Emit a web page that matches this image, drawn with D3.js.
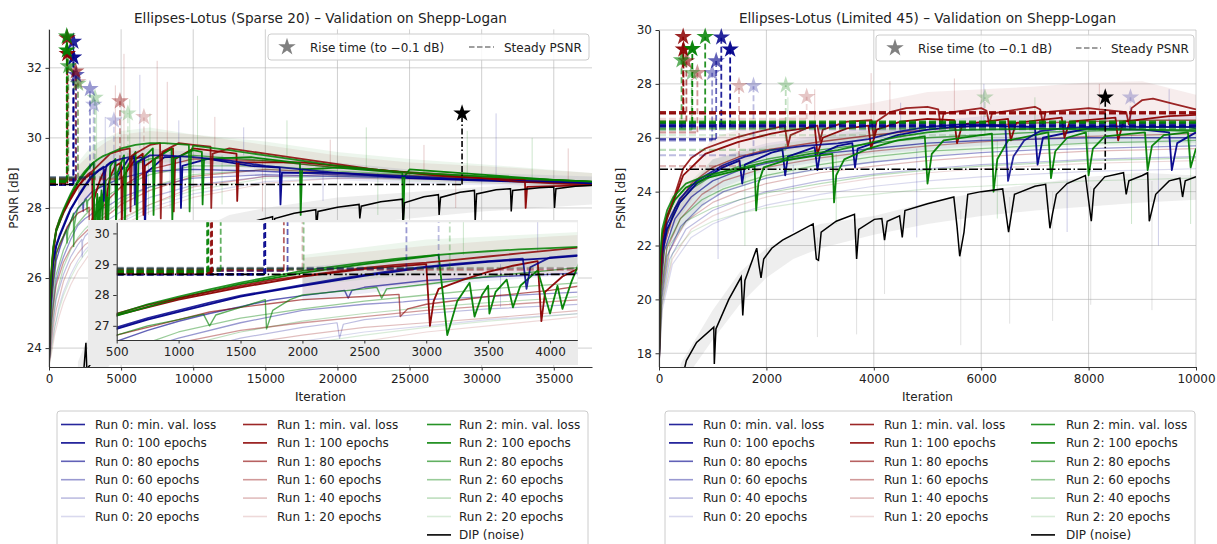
<!DOCTYPE html>
<html>
<head>
<meta charset="utf-8" />
<title>Ellipses-Lotus validation on Shepp-Logan</title>
<script src="https://cdn.jsdelivr.net/npm/d3@7"></script>
<style>
    body { margin: 0px; background: white; }
    text { font-family: "DejaVu Sans", sans-serif; fill: #222; }
</style>
</head>
<body>
<svg id="chart"></svg>
<script>

// ---------- data ----------
var checkpoints = ["min. val. loss", "100 epochs", "80 epochs", "60 epochs", "40 epochs", "20 epochs"];
var runNames = ["Run 0", "Run 1", "Run 2"];

// Left panel: Ellipses-Lotus (Sparse 20)
var sparseRun0 = [
    [[0,23.5],[40,24.6],[100,25.4],[200,26.1],[300,26.5],[500,26.95],[750,27.25],[1000,27.5],[1250,27.75],[1500,27.98],[1750,28.15],[2000,28.33],[2250,28.5],[2500,28.65],[2750,28.8],[3000,28.92],[3250,29.02],[3500,29.1],[3780,29.18],[3810,28.2],[3840,28.9],[4000,29.22],[4250,29.3],[5000,29.4],[5900,29.48],[5950,28.1],[6050,29.3],[7000,29.5],[8000,29.5],[10000,29.45],[12500,29.35],[15000,29.2],[17500,29.1],[20000,29.0],[25000,28.9],[30000,28.8],[37650,28.7]],
    [[0,23.5],[40,24.5],[100,25.3],[200,26.0],[300,26.45],[500,26.9],[750,27.2],[1000,27.45],[1500,27.95],[2000,28.3],[2500,28.62],[3000,28.9],[3500,29.08],[4000,29.2],[4250,29.28],[4600,29.35],[4650,27.6],[4720,28.9],[5500,29.4],[6600,29.45],[6650,27.2],[6750,29.0],[8000,29.45],[9100,29.45],[9150,28.0],[9250,29.2],[11000,29.4],[14000,29.2],[16000,29.15],[16050,28.1],[16150,29.0],[20000,29.0],[25000,28.85],[30000,28.78],[37650,28.7]],
    [[0,23.5],[50,24.3],[150,25.1],[300,25.8],[500,26.5],[750,26.85],[1000,27.15],[1250,27.4],[1500,27.62],[1750,27.84],[2000,27.98],[2340,28.15],[2370,27.9],[2400,28.15],[2500,28.25],[3000,28.47],[3500,28.58],[4000,28.67],[4250,28.72],[5000,28.85],[7000,29.05],[10000,29.1],[15000,29.05],[20000,28.95],[30000,28.8],[37650,28.72]],
    [[0,23.5],[80,24.2],[200,24.9],[400,25.6],[500,25.9],[750,26.3],[1000,26.6],[1500,27.1],[2000,27.5],[2500,27.7],[2815,27.78],[3000,27.85],[3500,27.95],[4250,28.1],[5000,28.3],[7000,28.6],[10000,28.85],[15000,28.95],[20000,28.9],[30000,28.8],[37650,28.75]],
    [[0,23.5],[100,24.0],[300,24.8],[500,25.4],[1000,26.1],[1500,26.6],[2000,26.95],[2280,27.1],[2300,26.6],[2330,27.05],[2500,27.2],[3000,27.4],[3500,27.55],[4250,27.7],[5000,27.9],[7000,28.3],[10000,28.65],[15000,28.9],[20000,28.9],[30000,28.8],[37650,28.75]],
    [[0,23.5],[150,24.0],[400,24.6],[700,25.2],[1000,25.6],[1500,26.1],[2000,26.5],[2500,26.8],[3000,27.0],[3500,27.2],[4250,27.4],[5000,27.6],[7000,28.0],[10000,28.4],[15000,28.75],[20000,28.85],[30000,28.8],[37650,28.75]]
];
var sparseRun1 = [
    [[0,23.5],[40,24.7],[100,25.6],[200,26.3],[300,26.8],[500,27.4],[750,27.68],[1000,27.9],[1250,28.1],[1500,28.3],[1750,28.48],[2000,28.62],[2250,28.75],[2500,28.88],[2750,28.98],[3000,29.05],[3250,29.15],[3500,29.25],[3750,29.35],[4000,29.45],[4250,29.55],[5000,29.65],[5600,29.7],[5650,27.9],[5750,29.5],[7000,29.8],[7700,29.85],[7750,27.7],[7850,29.6],[9000,29.85],[10000,29.8],[11200,29.75],[11250,28.0],[11350,29.55],[12500,29.7],[15000,29.55],[17500,29.4],[20000,29.25],[22500,29.1],[25000,29.0],[27500,28.9],[30000,28.85],[32500,28.75],[35000,28.7],[37650,28.65]],
    [[0,23.5],[40,24.6],[100,25.5],[200,26.25],[300,26.75],[500,27.35],[1000,27.85],[1500,28.25],[2000,28.6],[2500,28.85],[3000,29.0],[3030,27.0],[3060,27.8],[3100,28.2],[3300,28.5],[3500,28.75],[3700,28.95],[3900,29.1],[3930,27.15],[3960,28.1],[4100,28.6],[4250,28.9],[4600,29.2],[5000,29.3],[5050,27.6],[5150,28.9],[6000,29.4],[6500,29.55],[6550,27.8],[6650,29.2],[8000,29.6],[8600,29.7],[8650,27.9],[8750,29.4],[10000,29.7],[12000,29.6],[13000,29.55],[13050,28.2],[13150,29.3],[17500,29.3],[20000,29.2],[25000,29.0],[30000,28.85],[33000,28.8],[33050,28.0],[33150,28.6],[37650,28.65]],
    [[0,23.5],[50,24.4],[150,25.3],[300,26.0],[500,26.7],[1000,27.2],[1250,27.45],[1500,27.6],[1800,27.75],[2000,27.85],[2500,27.95],[2780,28.02],[2790,27.3],[2850,27.55],[3000,27.7],[3500,27.95],[4000,28.15],[4250,28.3],[5000,28.6],[7000,29.1],[10000,29.4],[15000,29.35],[20000,29.15],[30000,28.9],[37650,28.75]],
    [[0,23.5],[80,24.1],[200,24.8],[400,25.5],[500,25.8],[1000,26.45],[1500,26.85],[2000,27.1],[2500,27.3],[3000,27.5],[3500,27.65],[4250,27.85],[5000,28.1],[7000,28.5],[10000,28.9],[15000,29.1],[20000,29.0],[30000,28.85],[37650,28.75]],
    [[0,23.5],[100,23.9],[300,24.6],[500,25.1],[1000,25.9],[1500,26.4],[2000,26.7],[2500,26.95],[3000,27.1],[3500,27.25],[4250,27.5],[5000,27.7],[7000,28.1],[10000,28.6],[15000,28.9],[20000,28.95],[30000,28.85],[37650,28.75]],
    [[0,23.5],[150,23.8],[400,24.4],[700,24.9],[1000,25.3],[1500,25.8],[2000,26.2],[2500,26.5],[3000,26.8],[3500,27.0],[4250,27.3],[5000,27.5],[7000,27.9],[10000,28.3],[15000,28.7],[20000,28.85],[30000,28.8],[37650,28.75]]
];
var sparseRun2 = [
    [[0,23.5],[40,24.8],[100,25.7],[200,26.4],[300,26.9],[500,27.38],[750,27.7],[1000,27.95],[1250,28.18],[1500,28.4],[1750,28.6],[2000,28.78],[2250,28.92],[2500,29.05],[2750,29.17],[3000,29.27],[3250,29.35],[3500,29.42],[3750,29.48],[4000,29.52],[4250,29.57],[5000,29.7],[6000,29.8],[7000,29.85],[8000,29.85],[9000,29.82],[9700,29.8],[9750,27.9],[9850,29.6],[10000,29.78],[12500,29.65],[15000,29.5],[17500,29.35],[20000,29.2],[22500,29.1],[25000,29.0],[27500,28.95],[30000,28.9],[32500,28.85],[35000,28.8],[37650,28.75]],
    [[0,23.5],[40,24.7],[100,25.6],[200,26.35],[300,26.85],[500,27.33],[1000,27.9],[1500,28.35],[2000,28.72],[2500,29.0],[3000,29.25],[3100,29.3],[3170,26.7],[3250,27.8],[3350,28.4],[3390,27.3],[3450,28.0],[3500,28.3],[3510,27.4],[3560,28.1],[3650,28.5],[3700,27.6],[3760,28.3],[3900,28.8],[4000,27.4],[4060,28.3],[4100,27.55],[4170,28.4],[4250,29.2],[4600,29.4],[4650,27.5],[4750,29.0],[5200,29.5],[5250,27.3],[5350,29.1],[6000,29.6],[6100,27.4],[6200,29.3],[7200,29.7],[7250,27.8],[7350,29.4],[8500,29.7],[8550,27.6],[8650,29.4],[10000,29.65],[10600,29.6],[10650,28.1],[10750,29.4],[14000,29.45],[17400,29.28],[17450,27.8],[17550,29.1],[20000,29.15],[24500,29.0],[24550,27.4],[24650,28.9],[25000,29.1],[30000,28.95],[35000,28.8],[37650,28.75]],
    [[0,23.5],[50,24.4],[150,25.4],[300,26.1],[500,26.7],[750,27.0],[1000,27.2],[1200,27.38],[1250,27.0],[1300,27.35],[1500,27.6],[1700,27.85],[1710,26.9],[1760,27.5],[1900,27.85],[2000,28.0],[2500,28.2],[2600,28.25],[2640,27.9],[2680,28.2],[3000,28.35],[3500,28.6],[4000,28.8],[4250,28.9],[5000,29.1],[7000,29.4],[10000,29.5],[15000,29.35],[20000,29.15],[30000,28.9],[37650,28.75]],
    [[0,23.5],[80,24.3],[200,25.0],[400,25.8],[500,26.1],[1000,26.8],[1500,27.25],[2000,27.55],[2500,27.8],[3000,28.0],[3500,28.2],[4250,28.4],[5000,28.6],[7000,28.95],[10000,29.2],[15000,29.2],[20000,29.05],[30000,28.85],[37650,28.75]],
    [[0,23.5],[100,24.1],[300,24.9],[500,25.5],[1000,26.3],[1500,26.8],[2000,27.15],[2500,27.4],[3000,27.6],[3500,27.75],[4250,27.95],[5000,28.2],[7000,28.6],[10000,28.95],[15000,29.1],[20000,29.0],[30000,28.85],[37650,28.75]],
    [[0,23.5],[150,23.9],[400,24.6],[700,25.1],[1000,25.5],[1500,26.0],[2000,26.4],[2500,26.7],[3000,26.95],[3500,27.15],[4250,27.4],[5000,27.65],[7000,28.1],[10000,28.5],[15000,28.85],[20000,28.9],[30000,28.85],[37650,28.75]]
];
var sparseDip = [[0,12],[1500,20.5],[2400,23.3],[2560,24.15],[2620,23.4],[3000,23.6],[4000,24.1],[5000,24.7],[6500,25.5],[8000,26.2],[10000,26.9],[11500,27.35],[12500,27.5],[12550,26.9],[12650,27.45],[14000,27.6],[15500,27.75],[15550,27.2],[15650,27.7],[17000,27.85],[18500,27.95],[18550,27.4],[18650,27.9],[20000,28.02],[21500,28.1],[21550,27.7],[21650,28.05],[23000,28.18],[24500,28.25],[24550,27.5],[24650,28.15],[26000,28.32],[27000,28.38],[27050,27.8],[27150,28.3],[28500,28.45],[29500,28.5],[29550,27.6],[29650,28.4],[31000,28.52],[32000,28.55],[32050,27.9],[32150,28.5],[34000,28.58],[35000,28.6],[35050,28.0],[35150,28.55],[36500,28.62],[37650,28.65]];
var sparseDipBand = [[2000,21.5,23.6],[2600,22.8,24.2],[4000,23.4,24.6],[6000,24.5,25.6],[8000,25.4,26.5],[10000,26.2,27.3],[12500,26.8,27.8],[15000,27.1,28.0],[20000,27.5,28.3],[25000,27.7,28.45],[30000,27.9,28.6],[37650,28.1,28.75]];
var sparseBand0 = [[2000,27.8,28.9],[3000,28.3,29.3],[4000,28.6,29.5],[5000,28.8,29.6],[7000,29.0,29.7],[10000,29.0,29.6],[15000,28.9,29.5],[20000,28.8,29.3],[25000,28.7,29.1],[30000,28.65,29.0],[37650,28.6,28.9]];
var sparseBand1 = [[2000,28.0,29.2],[3000,28.4,29.6],[4000,28.7,29.9],[5000,28.9,30.1],[7000,29.2,30.2],[10000,29.3,30.1],[15000,29.1,29.8],[20000,28.9,29.5],[25000,28.8,29.3],[30000,28.7,29.2],[37650,28.6,29.0]];
var sparseBand2 = [[2000,28.3,29.3],[3000,28.7,29.8],[4000,28.9,30.0],[5000,29.1,30.2],[7000,29.3,30.3],[10000,29.3,30.1],[15000,29.1,29.9],[20000,28.9,29.6],[25000,28.75,29.4],[30000,28.7,29.25],[37650,28.6,29.0]];
// faint raw spikes: [iteration, from, to, run]
var sparseSpikes = [[3300,29.3,31.0,2],[3900,29.4,30.6,0],[4600,29.5,31.5,1],[5200,29.6,32.4,1],[5600,29.6,31.1,2],[6300,29.7,31.8,0],[7000,29.75,30.7,2],[7500,29.8,32.2,1],[8200,29.8,31.6,1],[9000,29.8,30.5,0],[10300,29.7,31.2,2],[11500,29.65,30.6,1],[13500,29.5,30.3,0],[16500,29.4,30.5,2],[19500,29.25,29.95,1],[22000,29.1,30.3,2],[26000,28.95,29.8,1],[29000,28.9,30.2,2],[31000,28.85,30.7,0],[33500,28.8,30.0,2],[36000,28.75,29.7,1],
    [3600,29.0,27.6,0],[4300,29.3,27.9,2],[5400,29.4,27.5,1],[6900,29.5,27.8,2],[8400,29.6,28.0,0],[12000,29.5,28.1,2],[14800,29.4,27.9,1],[19000,29.2,28.2,0],[22800,29.0,27.8,2],[28200,28.9,28.0,1]];
var sparseRise = [[1690,1700,1880,2840,3100,4500],[1260,1270,1850,4920,2000,6580],[1230,1240,1340,2010,3190,5470]];
var sparseStarY = [[32.75,32.3,31.8,31.4,30.95,30.5],[32.85,32.4,31.9,31.05,31.6,30.6],[32.9,32.5,32.05,31.55,31.15,30.7]];
var sparseSteady = [[28.66,28.68,28.78,28.84,28.88,28.86],[28.7,28.72,28.8,28.82,28.85,28.87],[28.74,28.76,28.79,28.83,28.86,28.88]];
var sparseSteadyEnd = sparseRise;
var sparseDipMarks = [28640, 28.67, 30.7];   // rise iteration, steady PSNR, star height

// Right panel: Ellipses-Lotus (Limited 45)
var limitedRun0 = [
    [[0,17.5],[20,20.8],[60,21.9],[150,22.8],[388,23.74],[700,24.4],[1190,24.98],[1600,25.3],[2095,25.54],[2700,25.7],[3330,25.79],[3900,25.95],[4440,26.22],[5000,26.4],[5630,26.5],[6000,26.5],[6450,26.45],[6500,24.4],[6600,25.3],[6800,25.9],[7100,26.25],[7500,26.35],[8000,26.4],[8500,26.42],[9000,26.4],[9870,26.4],[10000,26.35]],
    [[0,17.5],[20,20.6],[60,21.7],[150,22.6],[388,23.6],[700,24.3],[1190,24.9],[1500,25.15],[1550,24.3],[1600,25.0],[2095,25.45],[2300,25.55],[2350,24.6],[2400,25.3],[2900,25.65],[2950,24.8],[3000,25.4],[3330,25.7],[3600,25.8],[3650,24.9],[3700,25.6],[4440,26.1],[5000,26.3],[5500,26.4],[6000,26.45],[7000,26.4],[7050,25.0],[7150,26.0],[8000,26.35],[9000,26.3],[9500,26.2],[9550,24.8],[9650,25.8],[10000,26.2]],
    [[0,17.5],[30,20.3],[100,21.8],[300,23.0],[600,23.8],[1000,24.4],[1500,24.8],[2000,25.05],[3000,25.4],[4000,25.6],[5000,25.8],[6000,25.9],[7000,25.95],[8000,26.0],[10000,26.0]],
    [[0,17.5],[40,20.0],[150,21.6],[400,22.7],[800,23.5],[1200,24.0],[2000,24.5],[3000,24.85],[4000,25.1],[5000,25.3],[6000,25.45],[7000,25.55],[8000,25.6],[9000,25.65],[10000,25.7]],
    [[0,17.5],[50,19.8],[200,21.5],[500,22.6],[1000,23.3],[1500,23.7],[2000,24.0],[3000,24.4],[4000,24.65],[5000,24.85],[6000,25.0],[7000,25.1],[8000,25.2],[9000,25.25],[10000,25.3]],
    [[0,17.5],[60,19.6],[250,21.3],[600,22.3],[1000,22.8],[1500,23.2],[2000,23.5],[3000,23.9],[4000,24.2],[5000,24.4],[6000,24.55],[7000,24.65],[8000,24.75],[9000,24.8],[10000,24.85]]
];
var limitedRun1 = [
    [[0,17.5],[20,20.5],[60,22.3],[150,23.1],[265,23.7],[450,24.86],[600,25.25],[862,25.6],[1200,25.85],[1480,26.03],[1800,26.2],[2095,26.34],[2340,26.44],[2400,25.7],[2450,26.1],[2800,26.4],[2950,26.45],[3000,25.9],[3050,26.3],[3500,26.6],[3960,26.65],[4000,26.0],[4050,26.6],[4300,26.95],[4600,27.1],[5000,27.15],[5200,27.05],[5250,26.4],[5300,26.9],[6000,27.1],[6100,27.0],[6150,26.5],[6200,26.9],[7000,27.15],[7100,27.05],[7150,26.5],[7200,26.95],[8000,27.1],[8200,27.05],[8700,26.95],[8750,26.5],[8800,27.1],[9000,27.4],[9200,27.45],[9600,27.25],[10000,27.05]],
    [[0,17.5],[20,20.3],[60,22.0],[150,23.0],[300,23.8],[450,24.6],[862,25.4],[1480,25.85],[2095,26.15],[2340,26.25],[2900,26.4],[2950,25.4],[3050,26.0],[3500,26.35],[3900,26.45],[3950,25.6],[4050,26.3],[4500,26.6],[5000,26.7],[5500,26.65],[5550,25.8],[5650,26.5],[6500,26.7],[6550,25.9],[6650,26.55],[7500,26.75],[7550,26.0],[7650,26.6],[8500,26.75],[8550,25.9],[8650,26.6],[9500,26.8],[10000,26.85]],
    [[0,17.5],[30,20.5],[100,22.0],[300,23.4],[600,24.3],[1000,24.9],[1500,25.3],[2000,25.55],[3000,25.85],[4000,26.1],[5000,26.3],[6000,26.45],[7000,26.55],[8000,26.6],[9000,26.65],[10000,26.65]],
    [[0,17.5],[40,20.2],[150,21.9],[400,23.0],[800,23.9],[1200,24.4],[2000,24.9],[3000,25.25],[4000,25.5],[5000,25.7],[6000,25.85],[7000,25.95],[8000,26.05],[9000,26.1],[10000,26.15]],
    [[0,17.5],[50,20.0],[200,21.8],[500,22.9],[1000,23.6],[1500,24.0],[2000,24.3],[3000,24.7],[4000,24.95],[5000,25.15],[6000,25.3],[7000,25.4],[8000,25.5],[9000,25.55],[10000,25.6]],
    [[0,17.5],[60,19.8],[250,21.5],[600,22.6],[1000,23.1],[1500,23.5],[2000,23.8],[3000,24.2],[4000,24.5],[5000,24.7],[6000,24.85],[7000,24.95],[8000,25.05],[9000,25.1],[10000,25.15]]
];
var limitedRun2 = [
    [[0,17.5],[20,21.5],[60,22.6],[150,23.3],[265,23.8],[500,24.3],[880,24.6],[1480,24.86],[2000,25.1],[2340,25.23],[2800,25.4],[3330,25.54],[3900,25.8],[4440,26.03],[5000,26.2],[5500,26.28],[6000,26.3],[7000,26.33],[8000,26.32],[9000,26.3],[10000,26.25]],
    [[0,17.5],[20,21.3],[60,22.4],[150,23.1],[300,23.7],[500,24.15],[880,24.5],[1480,24.8],[1780,24.95],[1810,23.3],[1850,24.3],[1950,24.9],[2340,25.15],[2800,25.3],[3230,25.4],[3260,23.6],[3300,24.6],[3450,25.2],[3900,25.6],[4440,25.9],[4950,26.05],[5000,24.3],[5080,25.4],[5300,25.9],[6000,26.1],[6200,26.15],[6230,24.0],[6300,25.2],[6500,25.9],[7250,26.2],[7300,24.5],[7380,25.5],[7600,26.0],[7950,26.2],[8000,24.6],[8080,25.6],[8300,26.05],[9050,26.2],[9100,24.8],[9180,25.7],[9400,26.1],[9850,26.2],[9900,24.9],[10000,25.6]],
    [[0,17.5],[30,20.6],[100,22.2],[300,23.4],[600,24.1],[1000,24.6],[1500,24.95],[2000,25.2],[3000,25.55],[4000,25.8],[5000,26.0],[6000,26.1],[7000,26.2],[8000,26.25],[9000,26.3],[10000,26.3]],
    [[0,17.5],[40,20.3],[150,22.0],[400,23.0],[800,23.7],[1200,24.1],[2000,24.6],[3000,25.0],[4000,25.3],[5000,25.5],[6000,25.6],[7000,25.7],[8000,25.8],[9000,25.85],[10000,25.9]],
    [[0,17.5],[50,20.0],[200,22.0],[500,22.9],[1000,23.4],[1500,23.7],[2000,23.95],[3000,24.3],[4000,24.6],[5000,24.8],[6000,24.95],[7000,25.05],[8000,25.15],[9000,25.2],[10000,25.25]],
    [[0,17.5],[60,19.8],[250,21.7],[600,22.5],[1000,22.9],[1500,23.2],[2000,23.4],[3000,23.7],[4000,23.9],[5000,24.1],[6000,24.2],[7000,24.3],[8000,24.4],[9000,24.45],[10000,24.5]]
];
var limitedDip = [[0,10],[400,16.8],[510,17.73],[700,18.4],[1020,18.97],[1030,17.6],[1060,18.9],[1300,20.0],[1530,20.83],[1560,19.4],[1600,20.7],[1820,21.9],[1860,21.3],[1900,20.8],[1950,21.5],[2100,21.9],[2300,22.2],[2540,22.45],[2870,22.8],[2930,21.5],[2970,21.45],[3020,22.5],[3300,22.9],[3640,23.16],[3680,21.5],[3720,22.6],[4010,22.97],[4150,23.0],[4200,22.2],[4250,22.9],[4480,23.1],[4530,22.3],[4580,23.3],[5000,23.55],[5490,23.8],[5550,22.7],[5600,21.6],[5680,22.5],[5750,23.9],[6000,24.0],[6400,24.1],[6510,22.5],[6620,23.9],[7000,24.2],[7200,24.27],[7280,22.64],[7330,23.2],[7400,23.9],[7600,24.3],[7940,24.6],[8050,22.9],[8100,24.1],[8300,24.55],[8650,24.7],[8700,23.9],[8750,24.4],[9000,24.6],[9100,24.7],[9130,22.9],[9250,23.9],[9500,24.4],[9700,24.5],[9750,23.8],[9800,24.4],[10000,24.55]];
var limitedDipBand = [[400,16.8,17.6],[1000,18.5,19.6],[1500,19.8,21.0],[2000,20.8,21.9],[2500,21.5,22.4],[3000,21.9,22.8],[4000,22.4,23.1],[5000,22.8,23.6],[6000,23.1,24.0],[7000,23.3,24.3],[8000,23.45,24.55],[9000,23.6,24.7],[10000,23.7,24.6]];
var limitedBand0 = [[200,22.0,23.2],[1000,24.0,25.2],[2000,24.8,25.8],[4000,25.4,26.4],[6000,25.7,26.8],[8000,25.8,26.9],[10000,25.8,26.8]];
var limitedBand1 = [[200,22.5,23.8],[1000,24.8,26.0],[2000,25.4,26.6],[3000,25.7,27.0],[4000,26.0,27.3],[5000,26.4,27.7],[6000,26.5,27.8],[7000,26.6,27.9],[8000,26.6,28.05],[9000,26.7,28.1],[10000,26.6,27.6]];
var limitedBand2 = [[200,22.2,23.6],[1000,23.8,25.2],[2000,24.5,25.7],[4000,25.1,26.3],[6000,25.5,26.6],[8000,25.7,26.7],[10000,25.7,26.7]];
var limitedSpikes = [[2900,26.4,27.8,1],[3950,26.6,28.4,1],[4300,26.9,28.1,1],[5500,27.0,28.2,1],[2400,26.0,27.5,2],[4500,26.0,27.3,0],[6050,26.5,28.0,0],[7000,26.3,27.5,2],[8200,27.0,28.0,1],[9500,26.5,27.8,0],
    [1100,24.5,21.5,0],[1600,24.8,22.0,2],[2500,25.0,22.5,0],[3300,25.4,22.8,2],[4800,25.6,22.3,0],[6300,25.9,23.0,2],[7600,26.0,22.5,0],[8800,26.1,22.8,2],[9300,26.0,22.0,0],[9900,26.0,22.8,2],
    [2950,22.3,18.6,3],[3680,22.7,18.7,3],[4200,22.8,20.2,3],[5620,23.3,18.3,3],[6530,23.8,19.1,3],[7330,24.0,19.2,3],[8040,24.2,19.8,3],[9180,24.4,19.6,3]];
var limitedRise = [[1160,1325,1065,990,1760,8780],[450,455,510,715,1490,2750],[860,620,420,610,2360,6070]];
var limitedStarY = [[29.73,29.28,28.85,28.41,27.93,27.5],[29.75,29.28,28.85,28.41,27.93,27.52],[29.75,29.3,28.88,28.41,27.95,27.5]];
var limitedSteady = [[26.48,26.42,25.95,25.9,25.35,26.3],[26.95,26.9,26.6,26.2,24.95,26.7],[26.6,26.55,26.35,26.3,25.55,26.1]];
var limitedSteadyEnd = [[10000,10000,1065,990,1760,8780],[10000,10000,510,715,1490,2750],[10000,10000,10000,610,2360,6070]];
var limitedDipMarks = [8310, 24.83, 27.5];

// ---------- styling ----------
var runColors = ["#00008b", "#8b0000", "#008000"];
var alphas = [0.85, 0.95, 0.62, 0.4, 0.26, 0.15];
var widths = [1.8, 1.8, 1.4, 1.3, 1.2, 1.2];

var width = 1217, height = 544;
var svg = d3.select("#chart").attr("width", width).attr("height", height);
var defs = svg.append("defs");
var star = d3.symbol().type(d3.symbolStar).size(95);

function spikeColor(r) { return r === 3 ? "#9a9a9a" : runColors[r]; }

function drawSeries(g, x, y, runs, dip, dipBand, bands, spikes) {
    var line = d3.line().x(function(d) { return x(d[0]); }).y(function(d) { return y(d[1]); });
    var area = d3.area().x(function(d) { return x(d[0]); })
        .y0(function(d) { return y(d[1]); }).y1(function(d) { return y(d[2]); });

    g.append("path").datum(dipBand).attr("d", area).attr("fill", "#9a9a9a").attr("fill-opacity", 0.17);
    bands.forEach(function(b, r) {
        g.append("path").datum(b).attr("d", area).attr("fill", runColors[r]).attr("fill-opacity", 0.07);
    });
    g.selectAll(".spike").data(spikes).enter().append("line")
        .attr("x1", function(d) { return x(d[0]); }).attr("x2", function(d) { return x(d[0]); })
        .attr("y1", function(d) { return y(d[1]); }).attr("y2", function(d) { return y(d[2]); })
        .attr("stroke", function(d) { return spikeColor(d[3]); })
        .attr("stroke-opacity", function(d) { return d[3] === 3 ? 0.3 : 0.2; })
        .attr("stroke-width", 1);

    for (var k = 5; k >= 0; k--) {
        for (var r = 0; r < 3; r++) {
            g.append("path").datum(runs[r][k]).attr("d", line)
                .attr("fill", "none").attr("stroke", runColors[r])
                .attr("stroke-opacity", alphas[k]).attr("stroke-width", widths[k])
                .attr("stroke-linejoin", "round");
        }
    }
    g.append("path").datum(dip).attr("d", line)
        .attr("fill", "none").attr("stroke", "black").attr("stroke-width", 1.5);
}

function drawMarks(g, x, y, steady, steadyEnd, rise, starY, dipMarks, x0, withStars) {
    for (var k = 5; k >= 0; k--) {
        for (var r = 0; r < 3; r++) {
            var c = runColors[r], a = alphas[k];
            g.append("line")
                .attr("x1", x(x0)).attr("x2", x(steadyEnd[r][k]))
                .attr("y1", y(steady[r][k])).attr("y2", y(steady[r][k]))
                .attr("stroke", c).attr("stroke-opacity", a).attr("stroke-width", 2.2)
                .attr("stroke-dasharray", "7,3");
            g.append("line")
                .attr("x1", x(rise[r][k])).attr("x2", x(rise[r][k]))
                .attr("y1", y(steady[r][k])).attr("y2", y(starY[r][k]))
                .attr("stroke", c).attr("stroke-opacity", a).attr("stroke-width", 1.8)
                .attr("stroke-dasharray", "6,3");
        }
    }
    g.append("line")
        .attr("x1", x(x0)).attr("x2", x(dipMarks[0]))
        .attr("y1", y(dipMarks[1])).attr("y2", y(dipMarks[1]))
        .attr("stroke", "black").attr("stroke-width", 1.6).attr("stroke-dasharray", "9,2.5,1.5,2.5");
    g.append("line")
        .attr("x1", x(dipMarks[0])).attr("x2", x(dipMarks[0]))
        .attr("y1", y(dipMarks[1])).attr("y2", y(dipMarks[2]))
        .attr("stroke", "black").attr("stroke-width", 1.6).attr("stroke-dasharray", "6,2.5,1.5,2.5");
    if (!withStars) return;
    for (var k2 = 5; k2 >= 0; k2--) {
        for (var r2 = 0; r2 < 3; r2++) {
            g.append("path").attr("d", star)
                .attr("transform", "translate(" + x(rise[r2][k2]) + "," + y(starY[r2][k2]) + ")")
                .attr("fill", runColors[r2]).attr("fill-opacity", Math.max(alphas[k2], 0.22));
        }
    }
    g.append("path").attr("d", star)
        .attr("transform", "translate(" + x(dipMarks[0]) + "," + y(dipMarks[2]) + ")")
        .attr("fill", "black");
}

function styleAxis(sel, size) {
    sel.attr("font-size", size).attr("font-family", "DejaVu Sans");
    sel.select(".domain").attr("stroke", "#333").attr("stroke-width", 1.1);
    sel.selectAll(".tick line").attr("stroke", "#333");
    sel.selectAll(".tick text").attr("fill", "#222");
}

function panel(o) {
    var x = d3.scaleLinear().domain(o.xDomain).range([o.left, o.right]);
    var y = d3.scaleLinear().domain(o.yDomain).range([o.bottom, o.top]);
    var g = svg.append("g");

    g.append("g").selectAll("line").data(o.xTicks).enter().append("line")
        .attr("x1", function(d) { return x(d); }).attr("x2", function(d) { return x(d); })
        .attr("y1", o.top).attr("y2", o.bottom)
        .attr("stroke", "#b0b0b0").attr("stroke-opacity", 0.6).attr("stroke-width", 1);
    g.append("g").selectAll("line").data(o.yTicks).enter().append("line")
        .attr("x1", o.left).attr("x2", o.right)
        .attr("y1", function(d) { return y(d); }).attr("y2", function(d) { return y(d); })
        .attr("stroke", "#b0b0b0").attr("stroke-opacity", 0.6).attr("stroke-width", 1);

    defs.append("clipPath").attr("id", o.id + "-clip").append("rect")
        .attr("x", o.left).attr("y", o.top - 8).attr("width", o.right - o.left).attr("height", o.bottom - o.top + 8);
    var plot = g.append("g").attr("clip-path", "url(#" + o.id + "-clip)");
    drawSeries(plot, x, y, o.runs, o.dip, o.dipBand, o.bands, o.spikes);
    drawMarks(plot, x, y, o.steady, o.steadyEnd, o.rise, o.starY, o.dipMarks, o.xDomain[0], true);

    var xAxis = d3.axisBottom(x).tickValues(o.xTicks).tickSize(3.5).tickSizeOuter(0).tickPadding(3.5).tickFormat(d3.format("d"));
    var yAxis = d3.axisLeft(y).tickValues(o.yTicks).tickSize(3.5).tickSizeOuter(0).tickPadding(3.5).tickFormat(d3.format("d"));
    g.append("g").attr("transform", "translate(0," + o.bottom + ")").call(xAxis).call(styleAxis, 12);
    g.append("g").attr("transform", "translate(" + o.left + ",0)").call(yAxis).call(styleAxis, 12);

    g.append("text").attr("x", (o.left + o.right) / 2).attr("y", 23)
        .attr("text-anchor", "middle").attr("font-size", 13.6).text(o.title);
    g.append("text").attr("x", (o.left + o.right) / 2).attr("y", 401)
        .attr("text-anchor", "middle").attr("font-size", 12).text("Iteration");
    g.append("text").attr("transform", "translate(" + o.ylabelX + "," + ((o.top + o.bottom) / 2) + ") rotate(-90)")
        .attr("text-anchor", "middle").attr("font-size", 12).text("PSNR [dB]");

    // rise / steady legend
    var lg = g.append("g");
    lg.append("rect").attr("x", o.leg[0]).attr("y", o.leg[1]).attr("width", o.leg[2]).attr("height", 26)
        .attr("rx", 3).attr("fill", "white").attr("fill-opacity", 0.85).attr("stroke", "#cccccc");
    lg.append("path").attr("d", star).attr("fill", "#808080")
        .attr("transform", "translate(" + (o.leg[0] + 19) + "," + (o.leg[1] + 13) + ")");
    lg.append("text").attr("x", o.leg[0] + 42).attr("y", o.leg[1] + 17.5).attr("font-size", 12)
        .text("Rise time (to \u22120.1 dB)");
    lg.append("line").attr("x1", o.leg[3]).attr("x2", o.leg[3] + 25)
        .attr("y1", o.leg[1] + 13).attr("y2", o.leg[1] + 13)
        .attr("stroke", "#808080").attr("stroke-width", 1.6).attr("stroke-dasharray", "5.5,2.5");
    lg.append("text").attr("x", o.leg[3] + 35).attr("y", o.leg[1] + 17.5).attr("font-size", 12).text("Steady PSNR");

    return { x: x, y: y };
}

function bottomLegend(x0, x1, handleX, textX) {
    var g = svg.append("g");
    g.append("rect").attr("x", x0).attr("y", 411).attr("width", x1 - x0).attr("height", 150)
        .attr("rx", 3).attr("fill", "white").attr("stroke", "#cccccc");
    for (var r = 0; r < 3; r++) {
        for (var k = 0; k < 6; k++) {
            var yy = 424.5 + k * 18.4;
            g.append("line").attr("x1", handleX[r]).attr("x2", handleX[r] + 24).attr("y1", yy).attr("y2", yy)
                .attr("stroke", runColors[r]).attr("stroke-opacity", alphas[k]).attr("stroke-width", 1.6);
            g.append("text").attr("x", textX[r]).attr("y", yy + 4.3).attr("font-size", 12)
                .text(runNames[r] + ": " + checkpoints[k]);
        }
    }
    var yd = 424.5 + 6 * 18.4;
    g.append("line").attr("x1", handleX[2]).attr("x2", handleX[2] + 24).attr("y1", yd).attr("y2", yd)
        .attr("stroke", "black").attr("stroke-width", 1.6);
    g.append("text").attr("x", textX[2]).attr("y", yd + 4.3).attr("font-size", 12).text("DIP (noise)");
}

// ---------- left panel ----------
var sparseTicksX = [0, 5000, 10000, 15000, 20000, 25000, 30000, 35000];
var sparseTicksY = [24, 26, 28, 30, 32];
panel({
    id: "sparse", title: "Ellipses-Lotus (Sparse 20) \u2013 Validation on Shepp-Logan",
    left: 49, right: 592, top: 29.3, bottom: 367, ylabelX: 18,
    xDomain: [0, 37650], yDomain: [23.46, 33.1], xTicks: sparseTicksX, yTicks: sparseTicksY,
    runs: [sparseRun0, sparseRun1, sparseRun2], dip: sparseDip, dipBand: sparseDipBand,
    bands: [sparseBand0, sparseBand1, sparseBand2], spikes: sparseSpikes,
    steady: sparseSteady, steadyEnd: sparseSteadyEnd, rise: sparseRise, starY: sparseStarY, dipMarks: sparseDipMarks,
    leg: [268, 34, 321, 469]
});

// inset zoom of the left panel
var insetTicksX = [500, 1000, 1500, 2000, 2500, 3000, 3500, 4000];
var insetTicksY = [27, 28, 29, 30];
(function() {
    var L = 116.7, R = 577.3, T = 222.3, B = 340;
    var ix = d3.scaleLinear().domain([500, 4220]).range([L, R]);
    var iy = d3.scaleLinear().domain([26.54, 30.36]).range([B, T]);
    var g = svg.append("g");
    g.append("rect").attr("x", 88).attr("y", 220).attr("width", 490).attr("height", 145).attr("fill", "#ebebeb");
    g.append("rect").attr("x", L).attr("y", T).attr("width", R - L).attr("height", B - T).attr("fill", "white");
    defs.append("clipPath").attr("id", "inset-clip").append("rect")
        .attr("x", L).attr("y", T).attr("width", R - L).attr("height", B - T);
    var plot = g.append("g").attr("clip-path", "url(#inset-clip)");
    drawSeries(plot, ix, iy, [sparseRun0, sparseRun1, sparseRun2], sparseDip, sparseDipBand,
        [sparseBand0, sparseBand1, sparseBand2], sparseSpikes);
    drawMarks(plot, ix, iy, sparseSteady, sparseSteadyEnd, sparseRise, sparseStarY, sparseDipMarks, 500, false);
    var xAxis = d3.axisBottom(ix).tickValues(insetTicksX).tickSize(3.5).tickSizeOuter(0).tickPadding(3.5).tickFormat(d3.format("d"));
    var yAxis = d3.axisLeft(iy).tickValues(insetTicksY).tickSize(3.5).tickSizeOuter(0).tickPadding(3.5).tickFormat(d3.format("d"));
    g.append("g").attr("transform", "translate(0," + B + ")").call(xAxis).call(styleAxis, 12);
    g.append("g").attr("transform", "translate(" + L + ",0)").call(yAxis).call(styleAxis, 12);
})();

// ---------- right panel ----------
var limitedTicksX = [0, 2000, 4000, 6000, 8000, 10000];
var limitedTicksY = [18, 20, 22, 24, 26, 28, 30];
panel({
    id: "limited", title: "Ellipses-Lotus (Limited 45) \u2013 Validation on Shepp-Logan",
    left: 659, right: 1196, top: 30, bottom: 367, ylabelX: 625,
    xDomain: [0, 10000], yDomain: [17.49, 30], xTicks: limitedTicksX, yTicks: limitedTicksY,
    runs: [limitedRun0, limitedRun1, limitedRun2], dip: limitedDip, dipBand: limitedDipBand,
    bands: [limitedBand0, limitedBand1, limitedBand2], spikes: limitedSpikes,
    steady: limitedSteady, steadyEnd: limitedSteadyEnd, rise: limitedRise, starY: limitedStarY, dipMarks: limitedDipMarks,
    leg: [876, 35, 318, 1076]
});

bottomLegend(57, 588, [61, 243, 427], [95, 277, 459]);
bottomLegend(665, 1195, [669, 850, 1031], [703, 884, 1066]);

</script>
</body>
</html>
